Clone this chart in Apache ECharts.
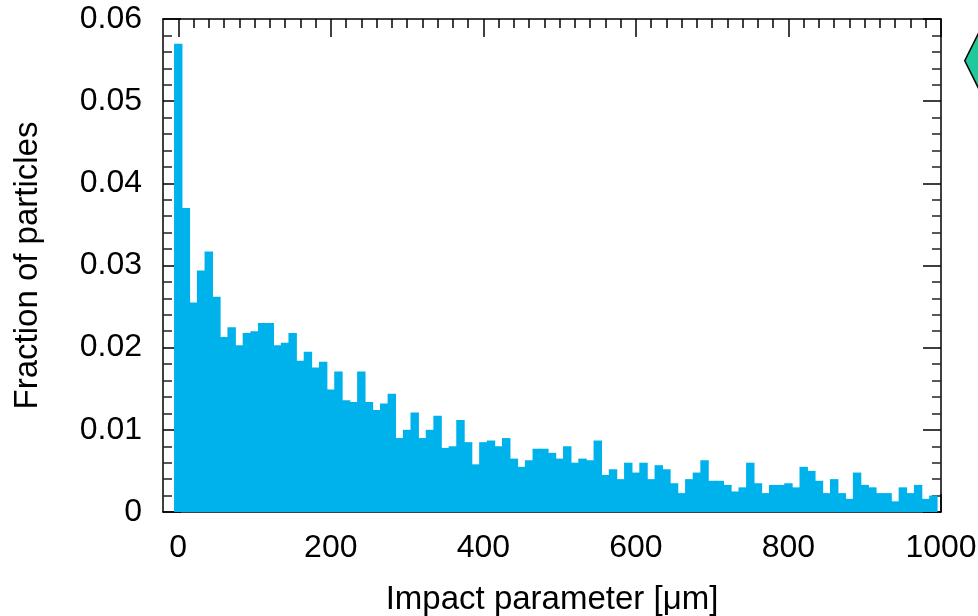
<!DOCTYPE html>
<html>
<head>
<meta charset="utf-8">
<script src="https://cdn.jsdelivr.net/npm/echarts@6/dist/echarts.min.js"></script>
<style>
html,body{margin:0;padding:0;background:#fff;}
#chart{width:978px;height:616px;}
</style>
</head>
<body>
<div id="chart"></div>
<script>
// Bin centres (impact parameter, µm), bin width 10
const binCenters = [0,10,20,30,40,50,60,70,80,90,100,110,120,130,140,150,160,170,180,190,
  200,210,220,230,240,250,260,270,280,290,300,310,320,330,340,350,360,370,380,390,
  400,410,420,430,440,450,460,470,480,490,500,510,520,530,540,550,560,570,580,590,
  600,610,620,630,640,650,660,670,680,690,700,710,720,730,740,750,760,770,780,790,
  800,810,820,830,840,850,860,870,880,890,900,910,920,930,940,950,960,970,980,990];
const binWidth = 10;
// Fraction of particles in each bin
const fractions = [0.0570,0.0370,0.0255,0.0294,0.0317,0.0262,0.0213,0.0225,0.0203,0.0218,
  0.0220,0.0230,0.0230,0.0203,0.0206,0.0218,0.0184,0.0195,0.0176,0.0183,
  0.0149,0.0171,0.0136,0.0134,0.0171,0.0134,0.0124,0.0132,0.0144,0.0090,
  0.0100,0.0121,0.0090,0.0100,0.0117,0.0078,0.0080,0.0112,0.0085,0.0058,
  0.0085,0.0087,0.0080,0.0090,0.0065,0.0055,0.0063,0.0077,0.0077,0.0072,
  0.0065,0.0080,0.0060,0.0065,0.0063,0.0087,0.0045,0.0052,0.0040,0.0060,
  0.0048,0.0060,0.0040,0.0057,0.0052,0.0035,0.0023,0.0040,0.0048,0.0063,
  0.0038,0.0038,0.0033,0.0025,0.0030,0.0060,0.0035,0.0023,0.0033,0.0033,
  0.0035,0.0030,0.0055,0.0050,0.0038,0.0023,0.0040,0.0023,0.0016,0.0048,
  0.0033,0.0030,0.0023,0.0023,0.0013,0.0030,0.0023,0.0033,0.0016,0.0020];
// Axis ticks
const xMajorTicks = [0,200,400,600,800,1000];
const xMinorStep = 20;
const xMin = -20, xMax = 1000;
const yMin = 0, yMax = 0.06, yInterval = 0.01;

const xMinorTicks = [];
for (let v = 0; v <= xMax; v += xMinorStep) xMinorTicks.push(v);

const FONT = 'Liberation Sans, Arial, Helvetica, sans-serif';
const AXIS_COLOR = '#000';
const BAR_COLOR = '#00B2EB';
const TICK_FS = 32, NAME_FS = 33;

const chart = echarts.init(document.getElementById('chart'), null, {renderer:'canvas'});

function xAxisDef(pos, ticks, len, showLabel, showLine) {
  return {
    type:'value', position: pos, min:xMin, max:xMax,
    axisLine:{show:showLine, onZero:false, lineStyle:{color:AXIS_COLOR, width:1.5}},
    axisTick:{show:true, inside:true, length:len, customValues:ticks, lineStyle:{color:AXIS_COLOR, width:1.5}},
    axisLabel:{show:showLabel, customValues:ticks, margin:20, color:'#000', fontSize:TICK_FS, fontFamily:FONT,
      formatter:function(v){ return String(v); }},
    splitLine:{show:false}, minorTick:{show:false}
  };
}
function yAxisDef(pos, showLabel) {
  return {
    type:'value', position: pos, min:yMin, max:yMax, interval:yInterval,
    axisLine:{show:true, onZero:false, lineStyle:{color:AXIS_COLOR, width:1.5}},
    axisTick:{show:true, inside:true, length:18, lineStyle:{color:AXIS_COLOR, width:1.5}},
    minorTick:{show:true, splitNumber:5, length:9, lineStyle:{color:'#222', width:1.5}},
    axisLabel:{show:showLabel, margin:21, color:'#000', fontSize:TICK_FS, fontFamily:FONT,
      padding:[5,0,0,0]},
    splitLine:{show:false}
  };
}

const xBottom = xAxisDef('bottom', xMajorTicks, 18, true, true);
xBottom.name = 'Impact parameter [\u03BCm]';
xBottom.nameLocation = 'middle';
xBottom.nameGap = 71;
xBottom.nameTextStyle = {color:'#000', fontSize:NAME_FS, fontFamily:FONT};

const yLeft = yAxisDef('left', true);
yLeft.name = 'Fraction of particles';
yLeft.nameLocation = 'middle';
yLeft.nameGap = 119;
yLeft.nameTextStyle = {color:'#000', fontSize:NAME_FS, fontFamily:FONT};

const option = {
  animation:false,
  backgroundColor:'#fff',
  grid:{left:163, top:19, width:778, height:493, containLabel:false, outerBoundsMode:'none'},
  legend:{
    left:964, top:30, padding:0, orient:'vertical', itemWidth:30, itemHeight:60,
    textStyle:{fontSize:NAME_FS, fontFamily:FONT, color:'#000'},
    data:[{name:'Impact parameter distribution', icon:'diamond',
      itemStyle:{color:'#1EC99B', borderColor:'#000', borderWidth:1.5}}]
  },
  xAxis:[
    xBottom,
    xAxisDef('bottom', xMinorTicks, 9, false, false),
    xAxisDef('top', xMajorTicks, 18, false, true),
    xAxisDef('top', xMinorTicks, 9, false, false)
  ],
  yAxis:[ yLeft, yAxisDef('right', false) ],
  series:[{
    name:'Impact parameter distribution',
    type:'custom',
    xAxisIndex:0, yAxisIndex:0,
    data: binCenters.map((c,i)=>[c, fractions[i]]),
    encode:{x:0, y:1},
    renderItem:function(params, api){
      const c = api.value(0), v = api.value(1);
      const p0 = api.coord([c - binWidth/2, v]);
      const p1 = api.coord([c + binWidth/2, 0]);
      return {type:'rect', shape:{x:p0[0]-0.4, y:p0[1], width:p1[0]-p0[0]+0.8, height:p1[1]-p0[1]},
        style:{fill:BAR_COLOR}};
    },
    z:1
  }]
};
chart.setOption(option);
</script>
</body>
</html>
